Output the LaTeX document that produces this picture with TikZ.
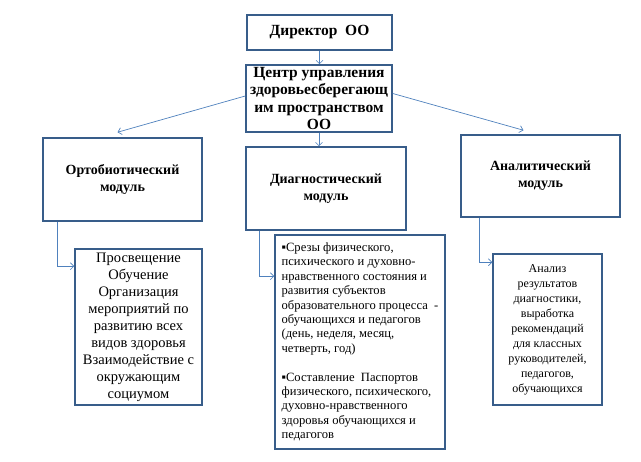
\documentclass[tikz,border=0pt]{standalone}
\usepackage{fontspec}
\setmainfont{Liberation Serif}
\usetikzlibrary{arrows.meta}
\definecolor{boxline}{RGB}{56,93,138}
\definecolor{linkline}{RGB}{79,129,189}
\tikzset{
	framebox/.style={draw=boxline,line width=1.5pt,fill=white,inner sep=0pt},%
	headbox/.style={framebox,align=center,font=\bfseries\fontsize{14}{17}\selectfont},%
	listbox/.style={framebox,align=center,font=\fontsize{12}{15}\selectfont},%
	link/.style={draw=linkline,line width=0.7pt,-{Straight Barb[length=3.5pt,width=7pt]}},%
}

\begin{document}
\begin{tikzpicture}[x=1pt,y=-1pt]
		\useasboundingbox (0,0) rectangle (641,462);
		% top of the tree
		\node[headbox,font=\bfseries\fontsize{15.5}{17}\selectfont,minimum width=145pt,minimum height=35pt] (director) at (319.5,32.5) {Директор\ \ ОО};
		\node[headbox,font=\bfseries\fontsize{15.5}{17.5}\selectfont,minimum width=146pt,minimum height=67pt] (center) at (319,98.5) {Центр управления\\здоровьесберегающ\\им пространством\\ОО};
		% modules
		\node[headbox,minimum width=159pt,minimum height=83pt] (ortho) at (122.5,179.5) {Ортобиотический\\модуль};
		\node[headbox,minimum width=160pt,minimum height=83pt] (diag) at (326,188.5) {Диагностический\\модуль};
		\node[headbox,minimum width=159pt,minimum height=82pt] (analytic) at (540.5,176) {Аналитический\\модуль};
		% contents of the modules
		\node[listbox,font=\fontsize{14.5}{17}\selectfont,minimum width=127pt,minimum height=156pt] (orthotext) at (138.5,327) {Просвещение\\Обучение\\Организация\\мероприятий по\\развитию всех\\видов здоровья\\Взаимодействие с\\окружающим\\социумом};
		\node[listbox,align=left,font=\fontsize{12.6}{14.4}\selectfont,minimum width=170pt,minimum height=214pt] (diagtext) at (360,342) {%
			▪Срезы физического,\\психического и духовно-\\нравственного состояния и\\развития субъектов\\образовательного процесса\ \ -\\обучающихся и педагогов\\(день, неделя, месяц,\\четверть, год)\\[14.4pt]%
			▪Составление\ \ Паспортов\\физического, психического,\\духовно-нравственного\\здоровья обучающихся и\\педагогов};
		\node[listbox,minimum width=109pt,minimum height=151pt] (analytictext) at (547.5,329.5) {Анализ\\результатов\\диагностики,\\выработка\\рекомендаций\\для классных\\руководителей,\\педагогов,\\обучающихся};
		% connectors
		\draw[link] (director.south) -- (director.south |- center.north);
		\draw[link] (center.south) -- (center.south |- diag.north);
		\draw[link] ([yshift=2.5pt]center.west) -- ([shift={(-5pt,5pt)}]ortho.north);
		\draw[link] ([yshift=5pt]center.east) -- ([shift={(-17pt,4pt)}]analytic.north);
		\draw[link] ([xshift=15pt]ortho.south west) |- ([yshift=-18pt]orthotext.north west);
		\draw[link] ([xshift=14pt]diag.south west) |- ([yshift=-42pt]diagtext.north west);
		\draw[link] ([xshift=19pt]analytic.south west) |- ([yshift=-9pt]analytictext.north west);
	\end{tikzpicture}
\end{document}
